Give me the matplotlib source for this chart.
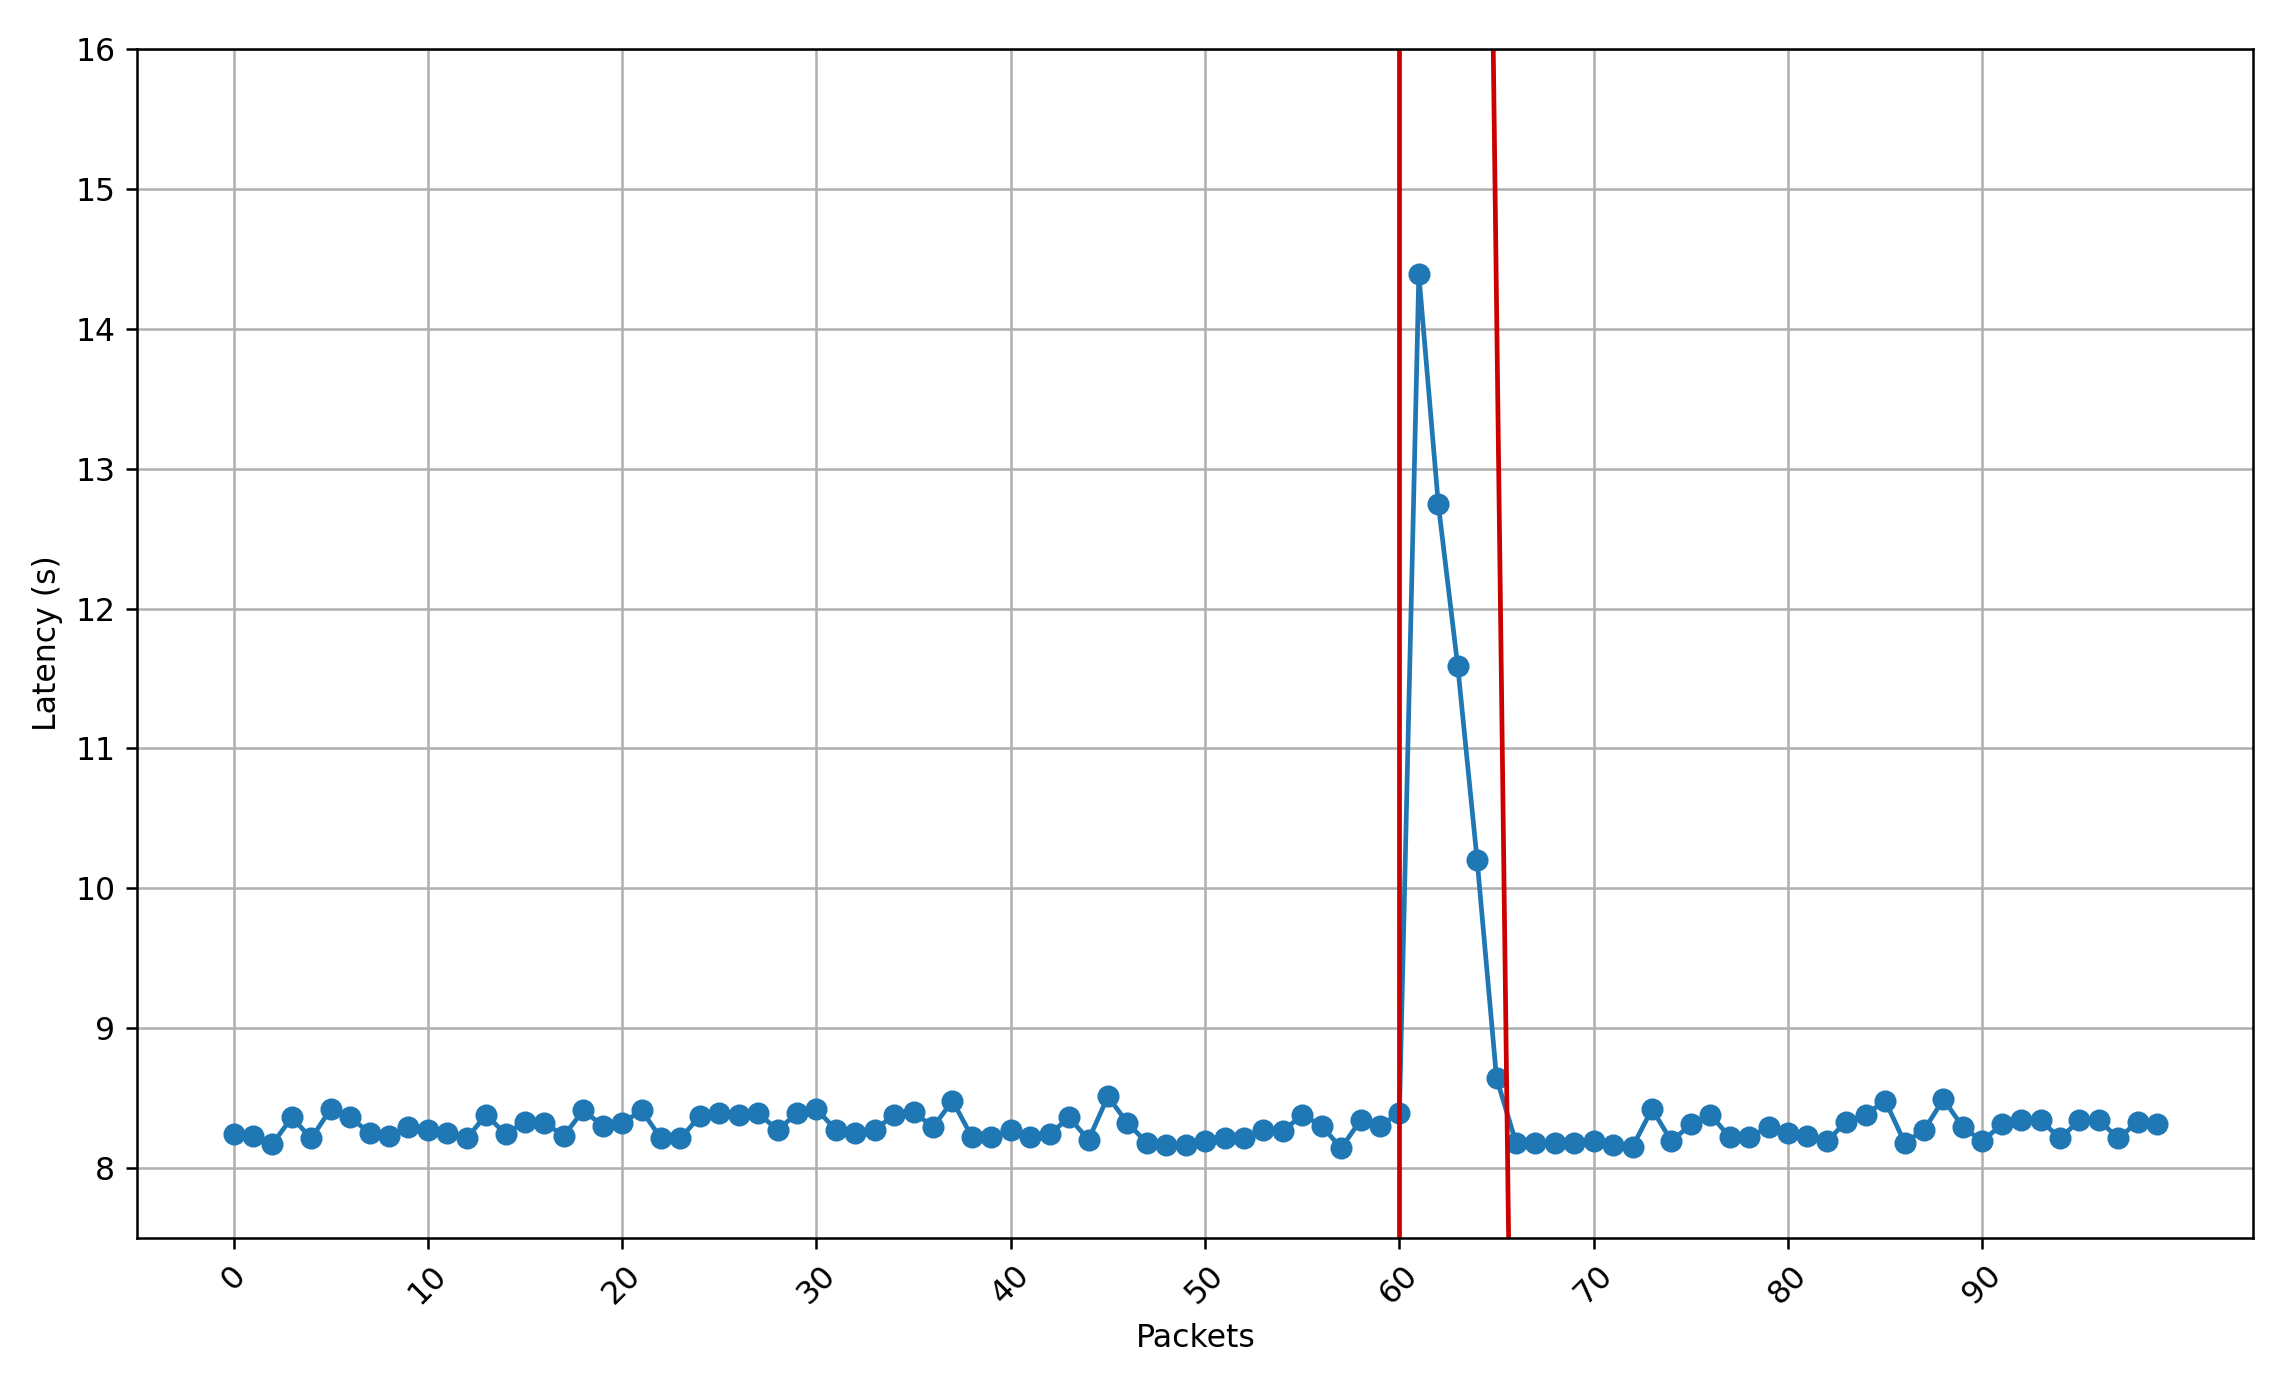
#!/usr/bin/env python3
"""Packet latency over time with the disruption window marked."""

import numpy as np
import matplotlib
matplotlib.use('Agg')
import matplotlib.pyplot as plt

# Latency per packet (s)
latency = [
    8.24, 8.23, 8.17, 8.36, 8.21, 8.42, 8.36, 8.25, 8.23, 8.29,
    8.27, 8.25, 8.21, 8.38, 8.24, 8.33, 8.32, 8.23, 8.41, 8.30,
    8.32, 8.41, 8.21, 8.21, 8.37, 8.39, 8.38, 8.39, 8.27, 8.39,
    8.42, 8.27, 8.25, 8.27, 8.38, 8.40, 8.29, 8.48, 8.22, 8.22,
    8.27, 8.22, 8.24, 8.36, 8.20, 8.51, 8.32, 8.18, 8.16, 8.16,
    8.19, 8.21, 8.21, 8.27, 8.26, 8.38, 8.30, 8.14, 8.34, 8.30,
    8.39, 14.39, 12.75, 11.59, 10.20, 8.64, 8.18, 8.18, 8.18, 8.18,
    8.19, 8.16, 8.15, 8.42, 8.19, 8.31, 8.38, 8.22, 8.22, 8.29,
    8.25, 8.23, 8.19, 8.33, 8.38, 8.48, 8.18, 8.27, 8.49, 8.29,
    8.19, 8.31, 8.34, 8.34, 8.21, 8.34, 8.34, 8.21, 8.33, 8.31,
]
packets = np.arange(len(latency))

# Window boundaries: (x at top, x at bottom) of each red marker line
start_line_x = [60, 60]
end_line_x = [64.83, 65.62]
line_y = [16, 7.5]

xticks = list(range(0, 100, 10))

DPI = 227
fig = plt.figure(figsize=(2278 / DPI, 1379 / DPI), dpi=DPI)
ax = fig.add_subplot(111)
fig.subplots_adjust(left=0.0603, right=0.9892, top=0.9642, bottom=0.1025)

ax.plot(packets, latency, marker='o', color='#1f77b4')
ax.plot(start_line_x, line_y, color='#cc0000', lw=1.5)
ax.plot(end_line_x, line_y, color='#cc0000', lw=1.5)

ax.set_xlim(-4.95, 103.95)
ax.set_ylim(7.5, 16)
ax.set_xticks(xticks)
ax.tick_params(axis='x', labelrotation=45)
ax.set_xlabel('Packets')
ax.set_ylabel('Latency (s)')
ax.grid(True)

plt.savefig('out.png', dpi=DPI)
